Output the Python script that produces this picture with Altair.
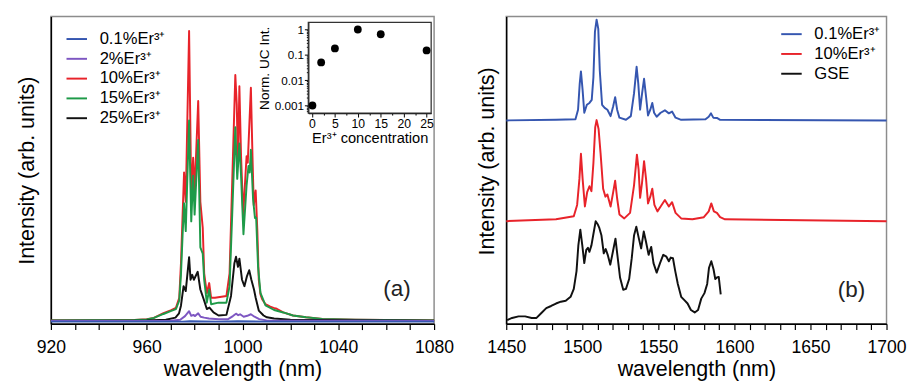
import altair as alt
import pandas as pd

FONT = "Liberation Sans"

# ---------------- panel (a): UC emission spectra ----------------
red_wl = [920, 940, 955, 960, 963, 967, 970, 972.2, 973.6, 974.3, 975.0, 975.6, 976.3, 977.7, 978.6,
          979.4, 980.0, 981.5, 982.4, 983.4, 984.0, 985.1, 986.1, 986.9, 988.5, 993.3, 994.6, 995.7,
          997.0, 997.6, 998.1, 998.7, 999.4, 1000.3, 1001.7, 1002.2, 1003.5, 1004.2, 1004.7, 1005.5,
          1006.2, 1006.8, 1007.5, 1008.2, 1009.6, 1011.6, 1013.0, 1014.3, 1017, 1021.1, 1026.5,
          1033.3, 1047, 1060, 1080]
red_int = [1.1, 1.1, 1.2, 1.5, 1.9, 3.5, 4.4, 5.2, 8.5, 19.7, 35.7, 49.5, 39.9, 95.8, 42.0,
           54.3, 43.1, 72.9, 39.9, 31.4, 16.5, 10.0, 13.3, 8.5, 8.5, 9.1, 16.5, 46.3,
           81.4, 71.8, 51.6, 77.7, 54.8, 35.7, 54.8, 52.7, 77.2, 53.8, 38.8, 43.6,
           30.3, 14.4, 9.6, 8.0, 6.4, 5.6, 5.2, 4.9, 3.7, 2.7, 2.1,
           1.6, 1.3, 1.2, 1.1]

green_wl = [920, 955, 960, 963, 967, 970, 972.2, 973.6, 974.3, 975.0, 975.6, 976.3, 977.7, 978.6,
            979.4, 980.0, 981.5, 982.4, 983.4, 984.0, 985.1, 986.1, 986.9, 990, 993.3, 994.6, 995.7,
            997.0, 997.8, 998.7, 999.4, 1000.4, 1001.7, 1002.5, 1003.0, 1003.5, 1004.4, 1005.2,
            1005.7, 1006.5, 1007.5, 1009.6, 1013.2, 1017, 1021.1, 1026.5, 1033.3, 1047, 1080]
green_int = [1.1, 1.2, 1.4, 1.9, 3.2, 4.1, 4.8, 7.6, 16.0, 29.3, 39.4, 30.3, 66.5, 33.5,
             48.4, 35.7, 60.1, 25.0, 22.9, 14.4, 6.9, 11.2, 6.4, 6.9, 6.9, 12.3, 35.7,
             64.3, 47.4, 59.0, 48.4, 29.3, 45.2, 51.6, 49.5, 56.9, 41.0, 34.6,
             34.7, 18.6, 10.1, 6.0, 4.5, 3.7, 2.7, 2.1, 1.6, 1.3, 1.1]

black_wl = [920, 960, 968, 972, 973.5, 974.3, 975.4, 976.3, 977.7, 978.3, 979.0, 979.7, 981.3,
            982.4, 983.1, 983.8, 985.1, 986.2, 987.9, 990, 993.3, 995.2, 996.6, 997.3, 998.1,
            998.7, 999.8, 1000.8, 1001.8, 1002.8, 1003.7, 1004.8, 1005.5, 1006.8, 1008.8, 1010.2,
            1013.2, 1020, 1080]
black_int = [1.0, 1.1, 1.3, 2.0, 3.4, 5.9, 12.3, 10.7, 21.8, 14.4, 16.0, 14.4, 17.0,
             11.2, 9.6, 8.0, 4.8, 5.3, 3.7, 2.7, 2.9, 9.1, 19.7, 21.9, 18.6,
             21.3, 14.4, 12.3, 15.4, 17.5, 14.4, 11.2, 8.5, 4.3, 2.7, 2.1,
             1.7, 1.3, 1.0]

purple_wl = [920, 970, 974, 976, 977.7, 978.6, 979.5, 980.2, 981.5, 982.5, 984, 986, 990, 994,
             996, 997.3, 998.2, 999, 1000.5, 1002, 1003.5, 1005, 1007, 1010, 1080]
purple_int = [0.9, 1.0, 1.3, 2.5, 4.1, 2.6, 2.9, 2.5, 3.4, 2.3, 2.0, 1.7, 1.5, 1.5,
              2.5, 3.3, 2.8, 3.1, 2.3, 2.6, 3.1, 2.3, 1.5, 1.1, 0.9]

blue_wl = [920, 975, 978, 990, 998, 1010, 1080]
blue_int = [0.7, 0.7, 0.8, 0.7, 0.8, 0.7, 0.7]

left_names = ["0.1%Er³⁺", "2%Er³⁺", "10%Er³⁺", "15%Er³⁺", "25%Er³⁺"]
left_colors = ["#3556B0", "#7E57C2", "#E8232A", "#1E9A48", "#111111"]
left_ticks = list(range(920, 1081, 10))

# inset: normalised UC intensity vs Er3+ concentration
conc = [0.1, 2, 5, 10, 15, 25]
norm_int = [0.001, 0.05, 0.18, 1.0, 0.65, 0.15]
inset_xticks = [0, 2.5, 5, 7.5, 10, 12.5, 15, 17.5, 20, 22.5, 25]
inset_yticks = [0.0006, 0.0007, 0.0008, 0.0009, 0.001, 0.002, 0.003, 0.004, 0.005, 0.006, 0.007,
                0.008, 0.009, 0.01, 0.02, 0.03, 0.04, 0.05, 0.06, 0.07, 0.08, 0.09, 0.1, 0.2,
                0.3, 0.4, 0.5, 0.6, 0.7, 0.8, 0.9, 1]

# ---------------- panel (b): NIR emission (stacked) ----------------
b_blue_wl = [1450, 1482.7, 1495.5, 1497.2, 1498.3, 1499.1, 1500.2, 1501.3, 1503, 1504.7,
             1506.2, 1507.3, 1508.3, 1509.4, 1510.5, 1511.5, 1513, 1514.7, 1516.5, 1518.6,
             1520.3, 1521.6, 1522.9, 1524.4, 1528.7, 1531.9, 1534, 1535.7, 1536.8, 1538,
             1539.3, 1540.6, 1541.9, 1543.2, 1544.7, 1546, 1547.2, 1548.9, 1551.5, 1554.3,
             1556.9, 1559, 1561.3, 1565, 1581, 1583.1, 1584.6, 1586.1, 1588.5, 1590.6, 1700]
b_blue_int = [66.4, 66.6, 66.8, 69.9, 78.4, 82.4, 76.3, 68.9, 71.5, 72.1,
              73.1, 80.5, 95.3, 99.3, 96.3, 82.6, 71.5, 70.5, 69.9, 67.8,
              71.0, 74.0, 69.9, 67.3, 66.6, 67.8, 75.2, 83.9, 78.4, 69.9,
              75.2, 80.0, 74.2, 68.0, 69.9, 72.1, 68.9, 67.6, 68.9, 69.7,
              68.7, 69.3, 67.3, 66.6, 66.8, 67.6, 68.7, 67.3, 67.2, 66.6, 66.4]

b_red_wl = [1450, 1482.7, 1494.4, 1496.6, 1498.1, 1499.1, 1500.2, 1501.7, 1503.2, 1504.7,
            1506, 1507.3, 1508.5, 1509.4, 1510.7, 1512, 1513.7, 1515.2, 1516.5, 1518.6,
            1520.3, 1521.6, 1522.9, 1524.4, 1527.6, 1531.4, 1534, 1535.9, 1537, 1538,
            1539.3, 1540.6, 1541.9, 1543.2, 1544.7, 1546, 1547.4, 1549.4, 1551.5, 1554.3,
            1556.9, 1559, 1561.3, 1565, 1572.4, 1579.9, 1583.1, 1584.8, 1586.5, 1588.5,
            1590.6, 1593.8, 1700]
b_red_int = [33.5, 34.1, 35.1, 38.8, 47.3, 55.5, 47.3, 38.3, 43.0, 44.9,
             43.3, 52.5, 64.2, 66.5, 63.6, 55.7, 44.1, 41.5, 42.2, 38.3,
             43.0, 46.7, 40.9, 35.7, 34.4, 36.2, 45.2, 55.2, 50.4, 41.1,
             46.2, 53.1, 47.3, 39.3, 41.5, 44.1, 38.8, 36.7, 38.3, 40.4,
             38.3, 39.7, 36.2, 34.4, 34.1, 34.8, 36.7, 39.3, 36.7, 36.2,
             34.8, 34.1, 33.5]

b_gse_wl = [1450.6, 1453.8, 1458.1, 1462.4, 1466.7, 1469.9, 1473.1, 1476.3, 1479.5, 1482.7,
            1485.9, 1489.1, 1492.3, 1494.4, 1496.2, 1497.4, 1498.7, 1500, 1501.3, 1502.6,
            1503.7, 1504.7, 1506, 1507.3, 1508.8, 1510.1, 1511.1, 1512.6, 1514.1, 1515.4,
            1516.7, 1518.4, 1520.1, 1521.8, 1523.3, 1524.8, 1526.9, 1528.7, 1530.8, 1532.5,
            1534, 1535.5, 1537.2, 1538.7, 1540.4, 1541.9, 1543.6, 1545.3, 1546.8, 1548.9,
            1551.1, 1553.2, 1555.3, 1556.9, 1558.1, 1559.6, 1561.1, 1562.8, 1565, 1567.1,
            1569.2, 1571.4, 1573.9, 1576.1, 1578.2, 1580.3, 1582.1, 1583.3, 1584.8, 1586.3,
            1587.4, 1588.5, 1589.7, 1591]
b_gse_int = [1.2, 1.9, 2.4, 2.4, 1.9, 1.9, 3.5, 5.1, 5.8, 6.6,
             7.2, 7.5, 8.8, 11.4, 17.2, 25.6, 30.7, 25.6, 19.8, 24.1,
             24.8, 23.5, 25.6, 29.3, 33.5, 32.5, 31.4, 28.8, 23.0, 24.4,
             22.5, 19.3, 23.5, 27.8, 21.4, 15.1, 11.1, 11.4, 14.6, 21.4,
             28.8, 31.7, 27.8, 24.6, 30.1, 26.7, 22.5, 25.1, 19.8, 16.7,
             19.8, 22.5, 21.9, 20.4, 21.6, 21.4, 17.2, 13.0, 8.8, 7.7,
             6.6, 4.5, 3.7, 4.5, 8.2, 10.0, 13.0, 18.3, 20.4, 17.7,
             14.6, 15.1, 15.3, 9.6]

right_names = ["0.1%Er³⁺", "10%Er³⁺", "GSE"]
right_colors = ["#3556B0", "#E8232A", "#111111"]
right_ticks = list(range(1450, 1701, 10))


def series(name, wl, inten):
    return pd.DataFrame({"wl": wl[:len(inten)], "I": inten[:len(wl)], "s": name})


# draw order: red, green, black, purple, blue (blue on top)
left_df = pd.concat([
    series(left_names[2], red_wl, red_int),
    series(left_names[3], green_wl, green_int),
    series(left_names[4], black_wl, black_int),
    series(left_names[1], purple_wl, purple_int),
    series(left_names[0], blue_wl, blue_int),
], ignore_index=True)

right_df = pd.concat([
    series(right_names[2], b_gse_wl, b_gse_int),
    series(right_names[1], b_red_wl, b_red_int),
    series(right_names[0], b_blue_wl, b_blue_int),
], ignore_index=True)

inset_df = pd.DataFrame({"conc": conc, "norm": norm_int})


def legend(x, y):
    return alt.Legend(title=None, orient="none", legendX=x, legendY=y, symbolType="stroke",
                      symbolSize=441, symbolStrokeWidth=2, labelFontSize=17, labelOffset=12,
                      rowPadding=0.3, padding=0, labelFont=FONT, labelColor="black",
                      labelLimit=200)


def xaxis(ticks, every):
    return alt.Axis(values=ticks, format="d",
                    labelExpr=f"datum.value % {every} === 0 ? format(datum.value, 'd') : ''",
                    tickSize=6, tickWidth=1.2, labelFontSize=18, labelPadding=9,
                    title="wavelength (nm)", titleFontSize=22, titlePadding=3, grid=False,
                    domainWidth=1.5, labelFlush=False, labelOverlap=False)


left_lines = alt.Chart(left_df).mark_line(strokeWidth=2, strokeJoin="round").encode(
    x=alt.X("wl:Q", scale=alt.Scale(domain=[920, 1080], nice=False, zero=False),
            axis=xaxis(left_ticks, 40)),
    y=alt.Y("I:Q", scale=alt.Scale(domain=[0, 100.5], nice=False, zero=False),
            axis=alt.Axis(title="Intensity (arb. units)", labels=False, ticks=False, grid=False,
                          titleFontSize=22, titlePadding=13, domainWidth=1.5)),
    color=alt.Color("s:N", scale=alt.Scale(domain=left_names, range=left_colors),
                    legend=legend(15, 11.5)),
)

inset_frame = alt.Chart(pd.DataFrame({"f": [0]})).mark_rect(
    fillOpacity=0, stroke="#333333", strokeWidth=1.3
).encode(x=alt.value(264), x2=alt.value(390), y=alt.value(6), y2=alt.value(99))

inset_pts = alt.Chart(inset_df).mark_circle(size=64, color="black", opacity=1).encode(
    x=alt.X("conc:Q", scale=alt.Scale(domain=[-0.8, 26], range=[264, 390], nice=False, zero=False),
            axis=alt.Axis(orient="bottom", offset=-216, values=inset_xticks,
                          labelExpr="datum.value % 5 === 0 ? format(datum.value, 'd') : ''",
                          tickSize={"condition": {"test": "datum.value % 5 === 0", "value": 4},
                                    "value": 2},
                          labelFontSize=12.5, labelPadding=1, title="Er³⁺ concentration",
                          titleFontSize=15, titlePadding=1, grid=False, labelFlush=False,
                          labelOverlap=False, domainWidth=1.2)),
    y=alt.Y("norm:Q", scale=alt.Scale(type="log", domain=[0.0005, 1.9], range=[99, 6], nice=False),
            axis=alt.Axis(orient="left", offset=-264, values=inset_yticks,
                          labelExpr="indexof([0.001, 0.01, 0.1, 1], datum.value) >= 0 ? format(datum.value, '~g') : ''",
                          tickSize={"condition": {"test": "indexof([0.001, 0.01, 0.1, 1], datum.value) >= 0",
                                                  "value": 4}, "value": 2},
                          labelFontSize=12, labelPadding=1, title="Norm. UC Int.",
                          titleFontSize=14, titlePadding=3, grid=False, labelOverlap=False,
                          domainWidth=1.2)),
)

label_a = alt.Chart(pd.DataFrame({"t": ["(a)"]})).mark_text(
    fontSize=23, font=FONT, color="#222222", align="center", baseline="middle"
).encode(x=alt.value(355), y=alt.value(280), text="t:N")

left = alt.layer(left_lines, inset_frame, inset_pts, label_a).resolve_scale(
    x="independent", y="independent"
).properties(width=393, height=315)

right_lines = alt.Chart(right_df).mark_line(strokeWidth=2, strokeJoin="round").encode(
    x=alt.X("wl:Q", scale=alt.Scale(domain=[1450, 1700], nice=False, zero=False),
            axis=xaxis(right_ticks, 50)),
    y=alt.Y("I:Q", scale=alt.Scale(domain=[0, 100.3], nice=False, zero=False),
            axis=alt.Axis(title="Intensity (arb. units)", labels=False, ticks=False, grid=False,
                          titleFontSize=22, titlePadding=8.5, titleY=148, domainWidth=1.5)),
    color=alt.Color("s:N", scale=alt.Scale(domain=right_names, range=right_colors),
                    legend=legend(281, 6.5)),
)

label_b = alt.Chart(pd.DataFrame({"t": ["(b)"]})).mark_text(
    fontSize=23, font=FONT, color="#222222", align="center", baseline="middle"
).encode(x=alt.value(354), y=alt.value(281), text="t:N")

right = alt.layer(right_lines, label_b).properties(width=390, height=315)

chart = alt.hconcat(left, right, spacing=20).resolve_scale(
    color="independent"
).resolve_legend(color="independent").properties(
    padding={"left": 7, "top": 3, "right": 0, "bottom": 0}
).configure(font=FONT).configure_view(
    stroke="#8c8c8c", strokeWidth=1.5
).configure_axis(
    labelColor="black", titleColor="black", titleFontWeight="normal",
    domainColor="black", tickColor="black", labelFont=FONT, titleFont=FONT
)

chart.save("out.html", embed_options={"renderer": "svg", "actions": False})
